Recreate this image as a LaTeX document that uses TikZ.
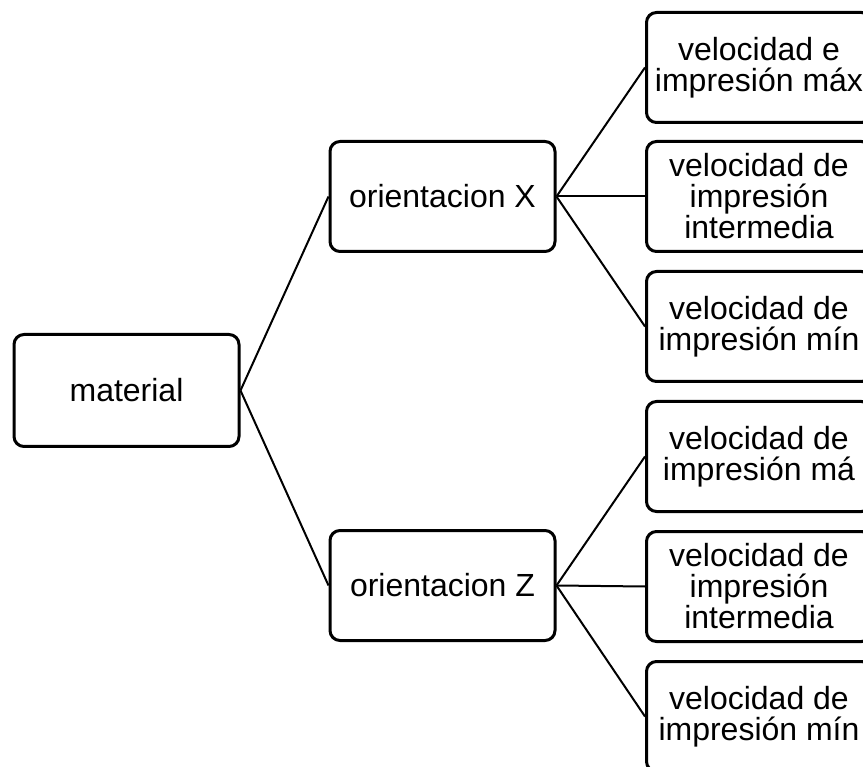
\documentclass[tikz,border=0pt]{standalone}
\usepackage{fontspec}
\setmainfont{Liberation Sans}
\begin{document}
\begin{tikzpicture}[x=1pt,y=-1pt,
  box/.style={draw=black, line width=3pt, rounded corners=10pt, rectangle,
    minimum width=225pt, minimum height=110pt, inner sep=0pt, align=center,
    font=\fontsize{32pt}{31pt}\selectfont, fill=white},
  link/.style={draw=black, line width=2pt}]
\useasboundingbox (0,0) rectangle (863,767);
\clip (0,0) rectangle (863,767);
\fill[white] (0,0) rectangle (863,767);
\node[box, minimum height=112pt] (mat) at (126.5,390.5) {material};
\node[box] (ox) at (442.5,196.5) {orientacion X};
\node[box] (oz) at (442.5,585.5) {orientacion Z};
\node[box] (r1) at (759,67.5) {velocidad e\\impresión máx};
\node[box] (r2) at (759,196.5) {velocidad de\\impresión\\intermedia};
\node[box] (r3) at (759,326.5) {velocidad de\\impresión mín};
\node[box] (r4) at (759,456.5) {velocidad de\\impresión má};
\node[box] (r5) at (759,586.5) {velocidad de\\impresión\\intermedia};
\node[box] (r6) at (759,716.5) {velocidad de\\impresión mín};
\draw[link] (mat.east) -- (ox.west);
\draw[link] (mat.east) -- (oz.west);
\draw[link] (ox.east) -- (r1.west);
\draw[link] (ox.east) -- (r2.west);
\draw[link] (ox.east) -- (r3.west);
\draw[link] (oz.east) -- (r4.west);
\draw[link] (oz.east) -- (r5.west);
\draw[link] (oz.east) -- (r6.west);
\end{tikzpicture}
\end{document}
